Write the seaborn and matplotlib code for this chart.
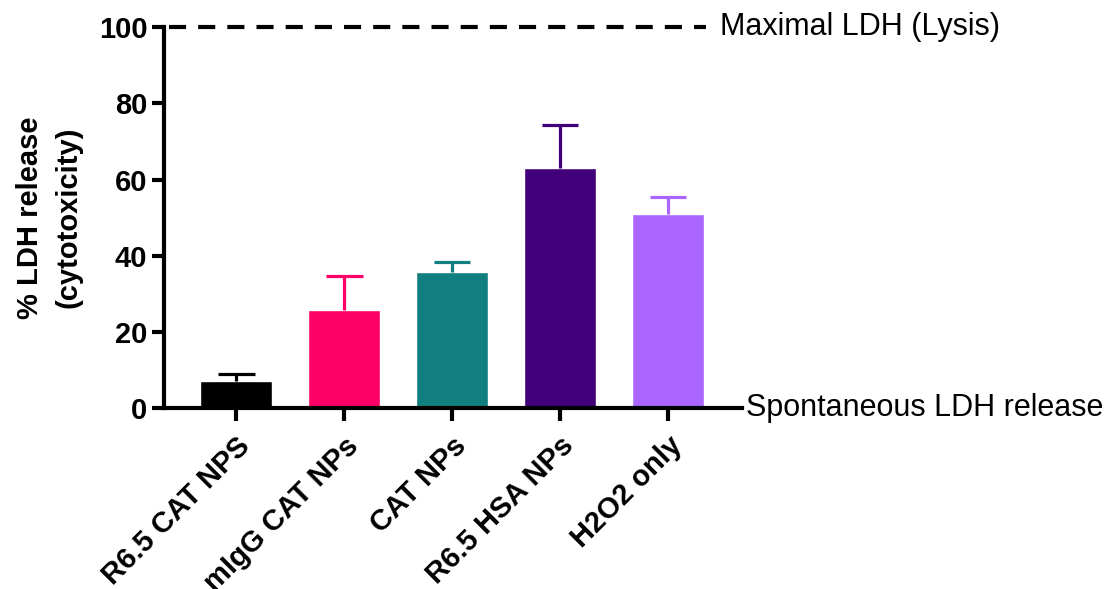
import matplotlib
matplotlib.use("Agg")
import matplotlib.pyplot as plt
import seaborn as sns
import pandas as pd

categories = ["R6.5 CAT NPS", "mIgG CAT NPs", "CAT NPs", "R6.5 HSA NPs", "H2O2 only"]
values = [7.2, 25.7, 35.7, 63.0, 50.9]
errors = [1.7, 9.0, 2.6, 11.3, 4.5]
colors = ["#000000", "#FF0066", "#117F7F", "#41007A", "#AA66FF"]
yticks = [0, 20, 40, 60, 80, 100]

sns.set_style("ticks")
plt.rcParams["font.family"] = ["Liberation Sans", "DejaVu Sans"]
for k in ["text.color", "axes.labelcolor", "xtick.color", "ytick.color", "axes.edgecolor"]:
    plt.rcParams[k] = "black"

fig = plt.figure(figsize=(11.08, 5.89), dpi=100)
ax = fig.add_axes([0.148, 0.307, 0.522, 0.647])

df = pd.DataFrame({"cat": categories, "val": values})
sns.barplot(data=df, x="cat", y="val", hue="cat", palette=colors, legend=False,
            width=0.67, ax=ax, errorbar=None, saturation=1)

cap = 0.17
for i, (v, e, c) in enumerate(zip(values, errors, colors)):
    ax.vlines(i, v, v + e, color=c, lw=2.3, zorder=3)
    ax.hlines(v + e, i - cap, i + cap, color=c, lw=2.3, zorder=3)

ax.set_xlim(-0.67, 4.69)
ax.set_ylim(0, 100)

ax.plot([-0.62, 4.35], [100, 100], color="black", lw=3, ls=(0, (4.1, 2.9)),
        dash_capstyle="butt", clip_on=False)

ax.set_yticks(yticks)
ax.set_yticklabels([str(t) for t in yticks], fontsize=21, fontweight="bold")
ax.set_xticks(range(len(categories)))
ax.set_xticklabels(categories, fontsize=21, fontweight="bold", rotation=45,
                   ha="right", rotation_mode="anchor")
ax.tick_params(axis="both", width=3, length=9, color="black")
ax.tick_params(axis="x", pad=8)
ax.tick_params(axis="y", pad=3)
for s in ["left", "bottom"]:
    ax.spines[s].set_linewidth(3)
    ax.spines[s].set_color("black")
sns.despine(ax=ax)
ax.set_xlabel("")
ax.set_ylabel("% LDH release\n(cytotoxicity)", fontsize=21, fontweight="bold",
              labelpad=12, linespacing=1.45)

ax.text(4.485, 100, "Maximal LDH (Lysis)", fontsize=22, va="center", ha="left",
        clip_on=False)
ax.text(4.72, 0, "Spontaneous LDH release", fontsize=22, va="center", ha="left",
        clip_on=False)

fig.savefig("out.png", dpi=100)
